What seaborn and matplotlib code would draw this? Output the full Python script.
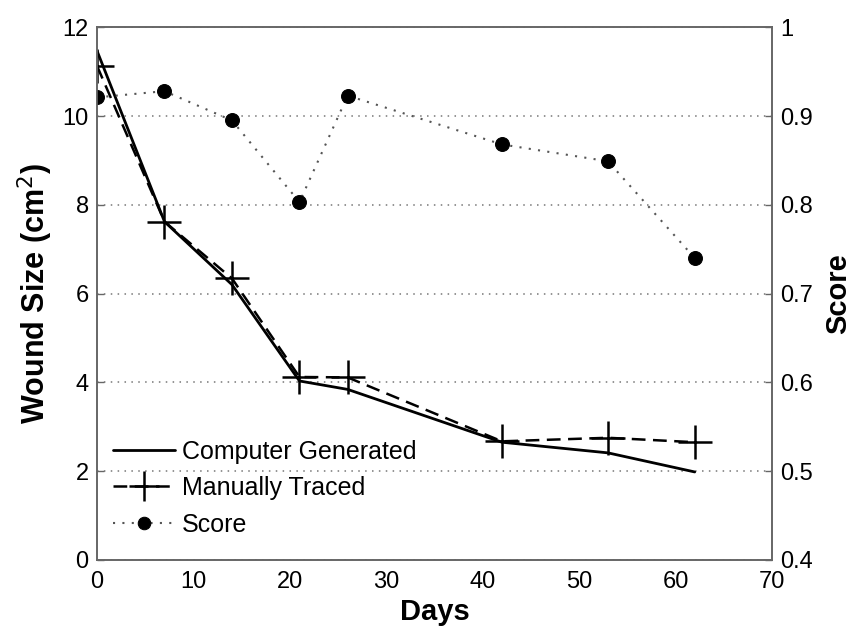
import matplotlib
matplotlib.use("Agg")
import matplotlib.pyplot as plt
import seaborn as sns
import pandas as pd

days = [0, 7, 14, 21, 26, 42, 53, 62]
computer_generated = [11.47, 7.62, 6.2, 4.03, 3.84, 2.65, 2.41, 1.98]
manually_traced = [11.13, 7.62, 6.34, 4.12, 4.11, 2.67, 2.75, 2.65]
score = [0.921, 0.928, 0.895, 0.803, 0.923, 0.868, 0.849, 0.740]

left_ticks = [0, 2, 4, 6, 8, 10, 12]
right_ticks = [0.4, 0.5, 0.6, 0.7, 0.8, 0.9, 1.0]
right_labels = ["0.4", "0.5", "0.6", "0.7", "0.8", "0.9", "1"]
x_ticks = [0, 10, 20, 30, 40, 50, 60, 70]

sns.set_theme(style="white")
plt.rcParams["font.family"] = ["Liberation Sans", "DejaVu Sans"]
plt.rcParams["text.color"] = "black"
plt.rcParams["axes.labelcolor"] = "black"

df = pd.DataFrame({
    "Days": days,
    "Computer Generated": computer_generated,
    "Manually Traced": manually_traced,
    "Score": score,
})

fig = plt.figure(figsize=(8.51, 6.34), dpi=100)
ax = fig.add_axes([0.114, 0.117, 0.793, 0.840])
ax2 = ax.twinx()

sns.lineplot(data=df, x="Days", y="Computer Generated", ax=ax, color="black",
             linewidth=2.0, label="Computer Generated", legend=False)
sns.lineplot(data=df, x="Days", y="Manually Traced", ax=ax, color="black",
             linewidth=1.8, linestyle=(0, (5.5, 3)), marker="+", markersize=24,
             markeredgewidth=1.8, markeredgecolor="black", markerfacecolor="black",
             label="Manually Traced", legend=False)
sns.lineplot(data=df, x="Days", y="Score", ax=ax2, color="#555555",
             linewidth=1.5, linestyle=(0, (1, 3.5)), marker="o", markersize=10,
             markerfacecolor="black", markeredgecolor="black",
             label="Score", legend=False)

ax.set_xlim(0, 70)
ax.set_ylim(0, 12)
ax2.set_ylim(0.4, 1.0)
ax.set_xticks(x_ticks)
ax.set_yticks(left_ticks)
ax2.set_yticks(right_ticks)
ax2.set_yticklabels(right_labels)

ax.yaxis.grid(True, color="#777777", linestyle=(0, (1, 3.5)), linewidth=1.1)
ax.xaxis.grid(False)
ax.set_axisbelow(True)

for a in (ax, ax2):
    for s in a.spines.values():
        s.set_color("#666666")
        s.set_linewidth(1.2)
    a.tick_params(direction="in", length=5, width=1, color="#666666",
                  labelsize=17, labelcolor="black", pad=6)
ax.tick_params(axis="x", pad=8)

ax.set_xlabel("Days", fontsize=21, fontweight="bold", labelpad=4, color="black")
ax.set_ylabel("Wound Size (cm$^2$)", fontsize=22, fontweight="bold", labelpad=5,
              color="black")
ax2.set_ylabel("Score", fontsize=21, fontweight="bold", labelpad=8, color="black")

handles = ax.get_lines()[:2] + ax2.get_lines()[:1]
ax.legend(handles=handles, labels=["Computer Generated", "Manually Traced", "Score"],
          loc="lower left", bbox_to_anchor=(-0.006, 0.006), frameon=False,
          fontsize=18, handlelength=2.5, handletextpad=0.25, labelspacing=0.5,
          borderaxespad=0.4, markerscale=0.9, labelcolor="black")

fig.savefig("out.png", dpi=100)
